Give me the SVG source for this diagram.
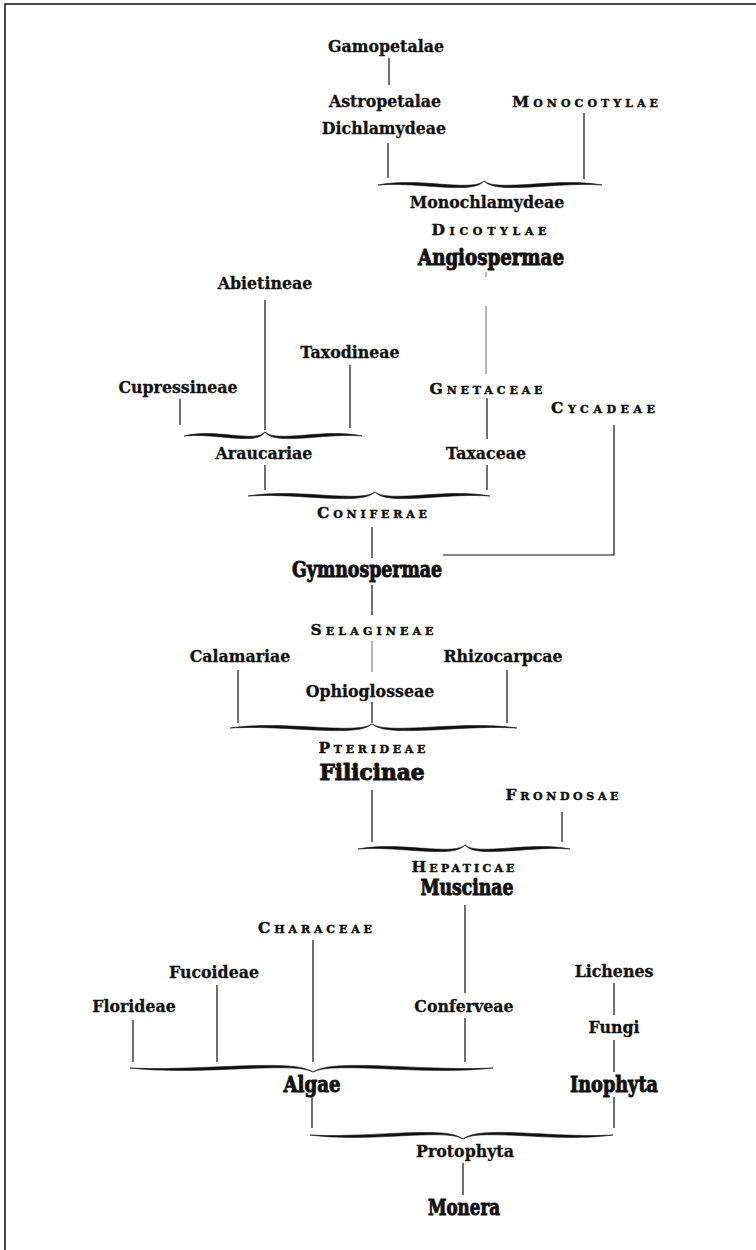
<svg xmlns="http://www.w3.org/2000/svg" xmlns:xlink="http://www.w3.org/1999/xlink" width="756" height="1250" viewBox="0 0 756 1250">
<style>
text{font-family:"DejaVu Serif","Liberation Serif",serif;font-weight:bold;fill:#111;text-anchor:middle}
.n{font-size:15.8px;stroke:#111;stroke-width:0.3}
.sc{font-size:15.5px;font-variant:small-caps;stroke:#111;stroke-width:0.45}
.big{font-family:"DejaVu Serif Condensed","DejaVu Serif",serif;font-stretch:condensed;font-size:21.5px;stroke:#111;stroke-width:0.9}
.ln{stroke:#111;stroke-width:1.2;fill:none}
.faint{stroke:#444;stroke-width:0.8;fill:none}
.frame{stroke:#111;stroke-width:1.5;fill:none}
</style>
<defs>
<path id="arm" d="M0,0 C8,0.4 14,0.8 25,0.3 C45,-0.5 62,-2.8 78,-2.6 C90,-2.4 96,-0.5 100,4 C95,-0.2 88,-0.3 78,-0.2 C62,0 45,2.8 25,2.4 C14,2.2 7,1.4 0,0 Z" fill="#111" stroke="#111" stroke-width="0.6" vector-effect="non-scaling-stroke"/>
</defs>
<rect width="756" height="1250" fill="#fff"/>
<path class="frame" d="M756,4 L5,4 L5,1250"/>

<g id="connectors">
<line class="ln" x1="389" y1="58" x2="389" y2="85"/>
<line class="ln" x1="388" y1="143" x2="388" y2="178"/>
<line class="ln" x1="584" y1="113" x2="584" y2="179"/>
<line class="faint" x1="486" y1="272" x2="486" y2="277"/>
<line class="faint" x1="486" y1="306" x2="486" y2="374"/>
<line class="ln" x1="265" y1="300" x2="265" y2="430"/>
<line class="ln" x1="350" y1="365" x2="350" y2="428"/>
<line class="ln" x1="180" y1="399" x2="180" y2="425"/>
<line class="ln" x1="487" y1="398" x2="487" y2="439"/>
<line class="ln" x1="265" y1="465" x2="265" y2="490"/>
<line class="ln" x1="487" y1="465" x2="487" y2="490"/>
<polyline class="ln" points="614,425 614,555 443,555"/>
<line class="ln" x1="372" y1="527" x2="372" y2="558"/>
<line class="ln" x1="372" y1="585" x2="372" y2="615"/>
<line class="faint" x1="372" y1="641" x2="372" y2="672"/>
<line class="ln" x1="238" y1="670" x2="238" y2="723"/>
<line class="ln" x1="372" y1="702" x2="372" y2="723"/>
<line class="ln" x1="507" y1="670" x2="507" y2="723"/>
<line class="ln" x1="372" y1="790" x2="372" y2="842"/>
<line class="ln" x1="562" y1="812" x2="562" y2="842"/>
<line class="ln" x1="465" y1="905" x2="465" y2="993"/>
<line class="ln" x1="313" y1="940" x2="313" y2="1062"/>
<line class="ln" x1="217" y1="985" x2="217" y2="1062"/>
<line class="ln" x1="133" y1="1020" x2="133" y2="1062"/>
<line class="ln" x1="465" y1="1018" x2="465" y2="1062"/>
<line class="ln" x1="614" y1="983" x2="614" y2="1015"/>
<line class="ln" x1="614" y1="1040" x2="614" y2="1072"/>
<line class="ln" x1="312" y1="1097" x2="312" y2="1128"/>
<line class="ln" x1="614" y1="1097" x2="614" y2="1128"/>
<line class="ln" x1="463" y1="1163" x2="463" y2="1195"/>
</g>

<g id="braces">
<use xlink:href="#arm" transform="translate(378,185) scale(1.06,-1)"/>
<use xlink:href="#arm" transform="translate(602,185) scale(-1.18,-1)"/>
<use xlink:href="#arm" transform="translate(184,436) scale(0.81,-1)"/>
<use xlink:href="#arm" transform="translate(362,436) scale(-0.97,-1)"/>
<use xlink:href="#arm" transform="translate(248,496) scale(1.27,-1)"/>
<use xlink:href="#arm" transform="translate(490,496) scale(-1.15,-1)"/>
<use xlink:href="#arm" transform="translate(230,728) scale(1.42,-1)"/>
<use xlink:href="#arm" transform="translate(517,728) scale(-1.45,-1)"/>
<use xlink:href="#arm" transform="translate(358,849) scale(1.07,-1)"/>
<use xlink:href="#arm" transform="translate(570,849) scale(-1.05,-1)"/>
<use xlink:href="#arm" transform="translate(130,1068) scale(1.83,1)"/>
<use xlink:href="#arm" transform="translate(493,1068) scale(-1.80,1)"/>
<use xlink:href="#arm" transform="translate(310,1135) scale(1.53,1)"/>
<use xlink:href="#arm" transform="translate(613,1135) scale(-1.50,1)"/>
</g>

<g id="n-gamopetalae"><text class="n" x="386" y="52">Gamopetalae</text></g>
<g id="n-astropetalae"><text class="n" x="385" y="107">Astropetalae</text></g>
<g id="n-dichlamydeae"><text class="n" x="384" y="134">Dichlamydeae</text></g>
<g id="n-monocotylae"><text class="sc" x="585" y="107" textLength="146" lengthAdjust="spacing">Monocotylae</text></g>
<g id="n-monochlamydeae"><text class="n" x="487" y="208">Monochlamydeae</text></g>
<g id="n-dicotylae"><text class="sc" x="489" y="235" textLength="115" lengthAdjust="spacing">Dicotylae</text></g>
<g id="n-angiospermae"><text class="big" x="491" y="265" textLength="146" lengthAdjust="spacingAndGlyphs">Angiospermae</text></g>
<g id="n-abietineae"><text class="n" x="265" y="289">Abietineae</text></g>
<g id="n-taxodineae"><text class="n" x="350" y="358">Taxodineae</text></g>
<g id="n-cupressineae"><text class="n" x="178" y="393">Cupressineae</text></g>
<g id="n-gnetaceae"><text class="sc" x="486" y="394" textLength="113" lengthAdjust="spacing">Gnetaceae</text></g>
<g id="n-cycadeae"><text class="sc" x="603" y="413" textLength="104" lengthAdjust="spacing">Cycadeae</text></g>
<g id="n-araucariae"><text class="n" x="264" y="459">Araucariae</text></g>
<g id="n-taxaceae"><text class="n" x="486" y="459">Taxaceae</text></g>
<g id="n-coniferae"><text class="sc" x="372" y="518" textLength="110" lengthAdjust="spacing">Coniferae</text></g>
<g id="n-gymnospermae"><text class="big" x="367" y="577" textLength="150" lengthAdjust="spacingAndGlyphs">Gymnospermae</text></g>
<g id="n-selagineae"><text class="sc" x="372" y="635" textLength="123" lengthAdjust="spacing">Selagineae</text></g>
<g id="n-calamariae"><text class="n" x="240" y="662">Calamariae</text></g>
<g id="n-rhizocarpcae"><text class="n" x="503" y="662">Rhizocarpcae</text></g>
<g id="n-ophioglosseae"><text class="n" x="370" y="697">Ophioglosseae</text></g>
<g id="n-pterideae"><text class="sc" x="372" y="753" textLength="107" lengthAdjust="spacing">Pterideae</text></g>
<g id="n-filicinae"><text class="big" x="372" y="780" textLength="105" lengthAdjust="spacingAndGlyphs">Filicinae</text></g>
<g id="n-frondosae"><text class="sc" x="562" y="800" textLength="113" lengthAdjust="spacing">Frondosae</text></g>
<g id="n-hepaticae"><text class="sc" x="463" y="872" textLength="103" lengthAdjust="spacing">Hepaticae</text></g>
<g id="n-muscinae"><text class="big" x="467" y="895" textLength="93" lengthAdjust="spacingAndGlyphs">Muscinae</text></g>
<g id="n-characeae"><text class="sc" x="315" y="933" textLength="114" lengthAdjust="spacing">Characeae</text></g>
<g id="n-fucoideae"><text class="n" x="214" y="978">Fucoideae</text></g>
<g id="n-lichenes"><text class="n" x="614" y="977">Lichenes</text></g>
<g id="n-florideae"><text class="n" x="134" y="1012">Florideae</text></g>
<g id="n-conferveae"><text class="n" x="464" y="1012">Conferveae</text></g>
<g id="n-fungi"><text class="n" x="614" y="1033">Fungi</text></g>
<g id="n-algae"><text class="big" x="312" y="1092" textLength="57" lengthAdjust="spacingAndGlyphs">Algae</text></g>
<g id="n-inophyta"><text class="big" x="614" y="1092" textLength="88" lengthAdjust="spacingAndGlyphs">Inophyta</text></g>
<g id="n-protophyta"><text class="n" x="465" y="1157">Protophyta</text></g>
<g id="n-monera"><text class="big" x="464" y="1215" textLength="72" lengthAdjust="spacingAndGlyphs">Monera</text></g>
</svg>
